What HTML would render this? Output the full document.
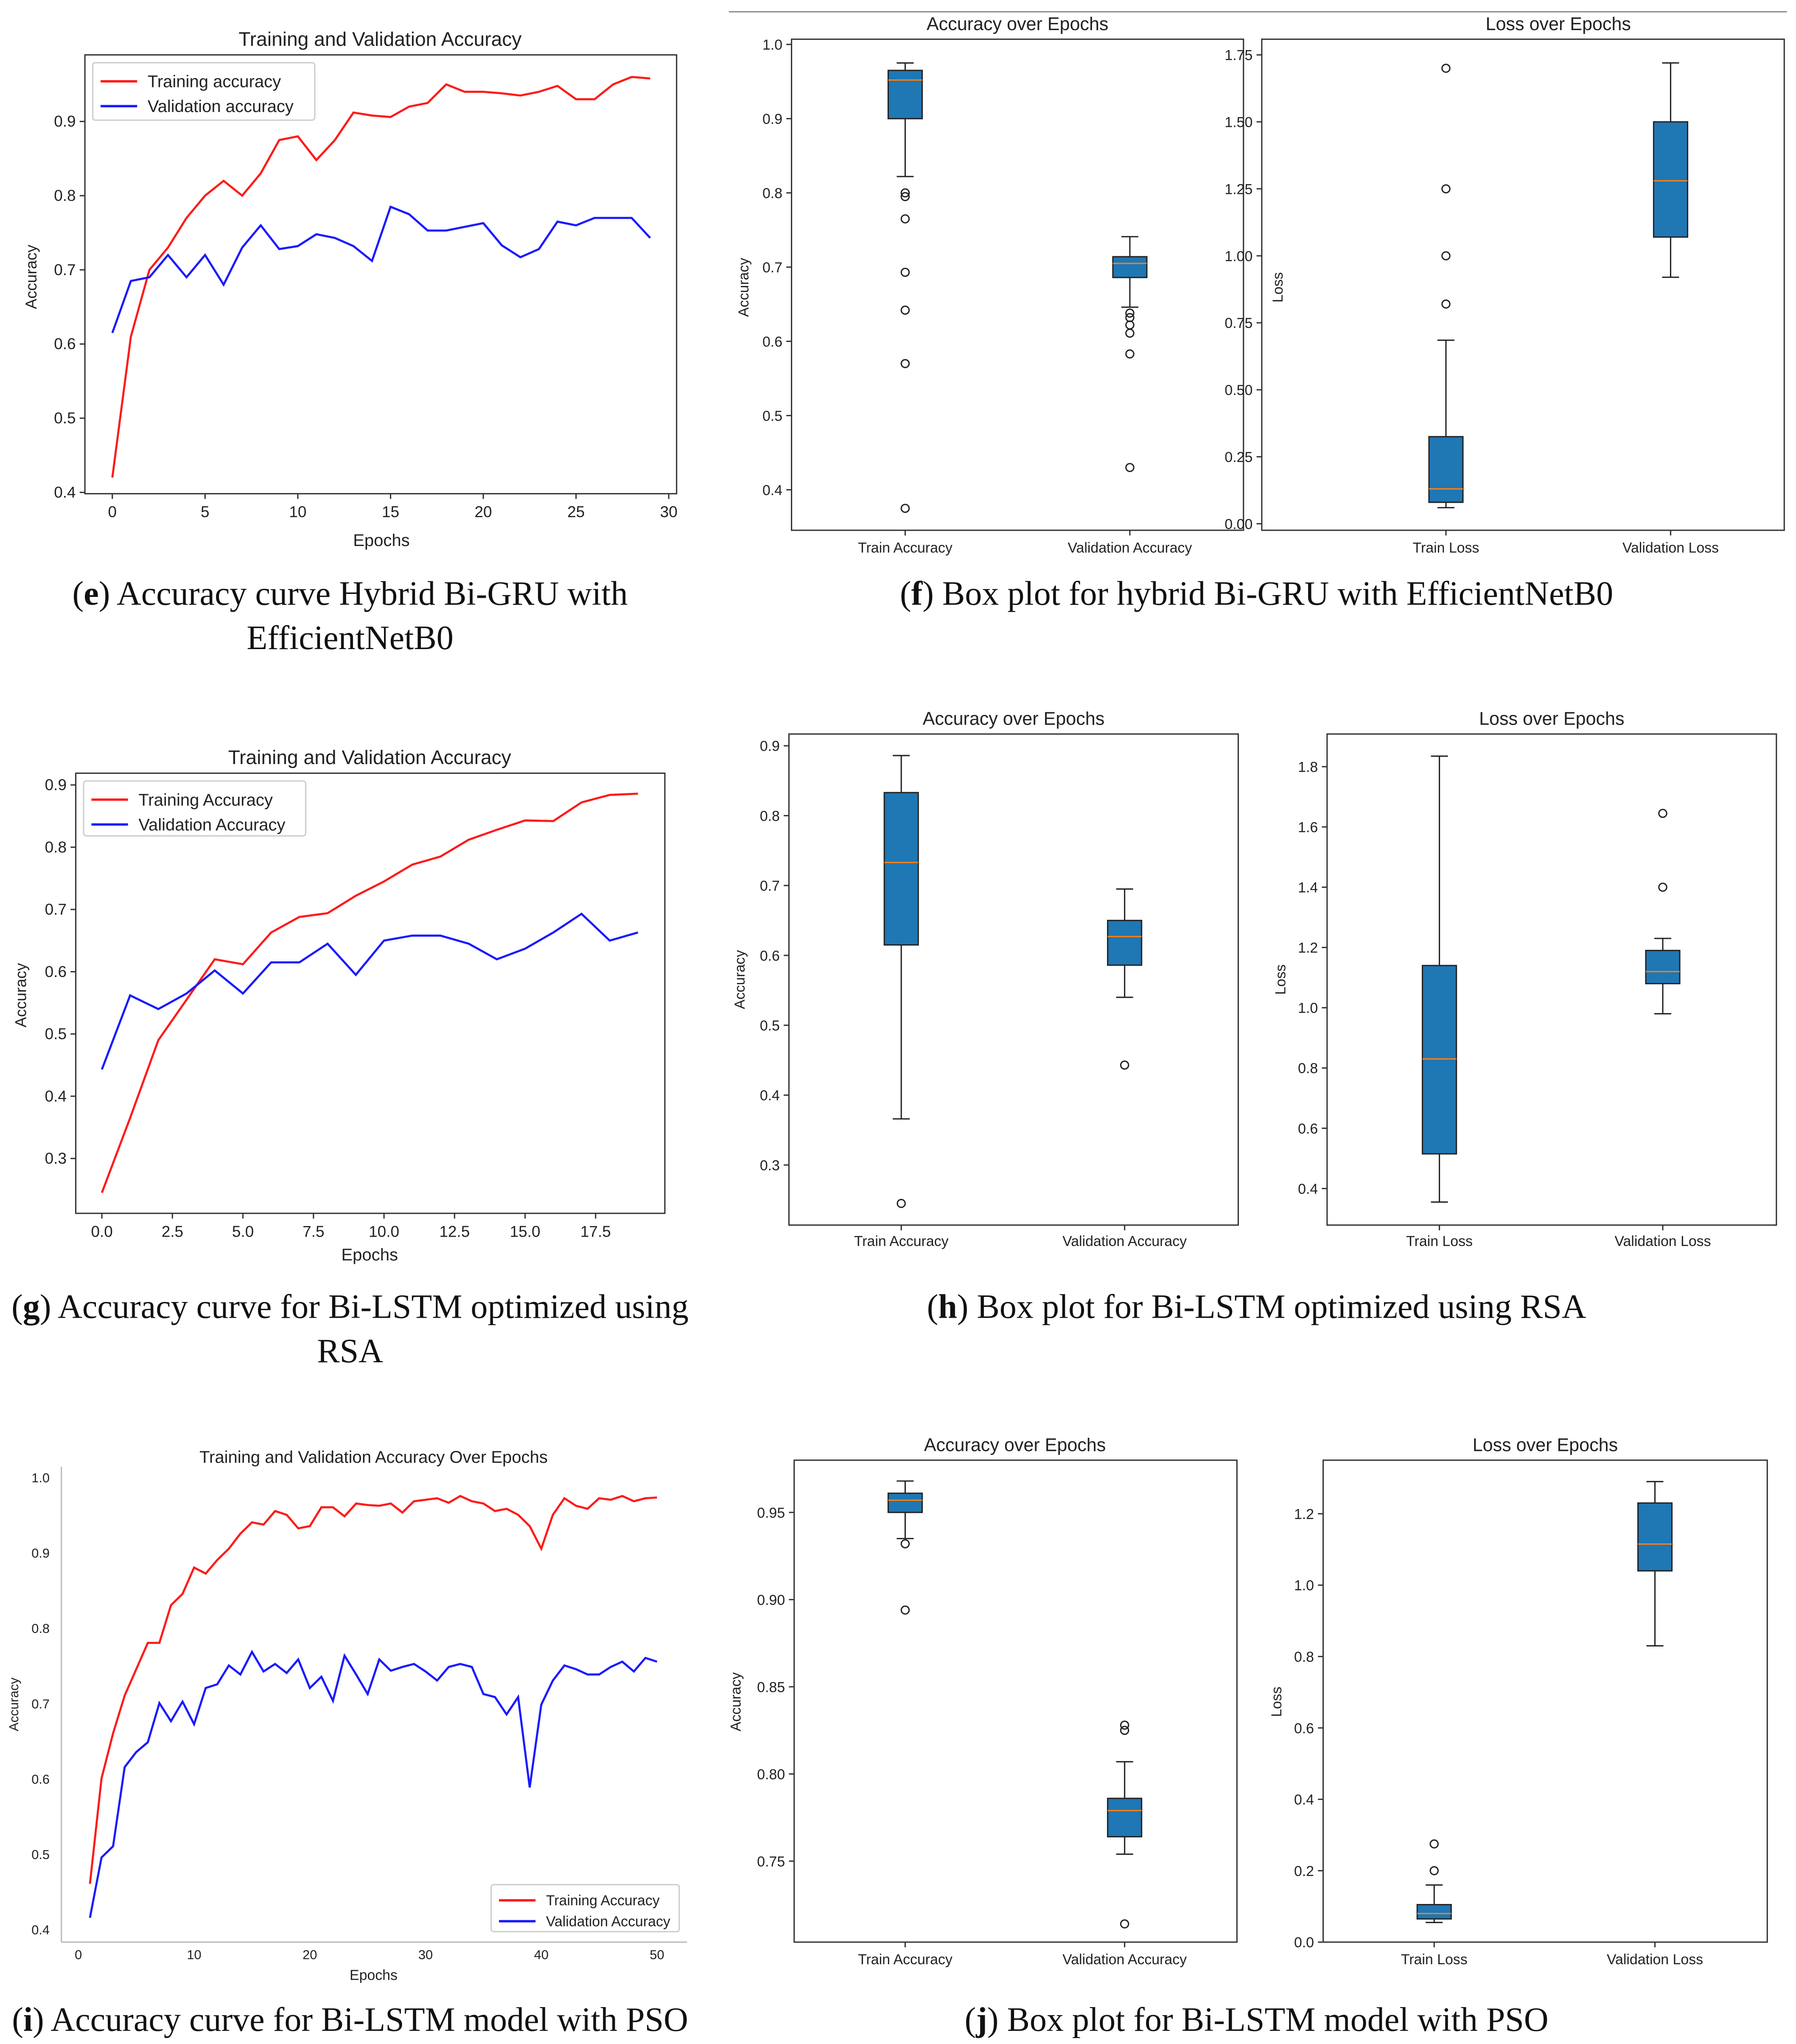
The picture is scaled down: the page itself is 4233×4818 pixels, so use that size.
<!DOCTYPE html>
<html><head><meta charset="utf-8"><style>html,body{margin:0;padding:0;background:#fff}svg{display:block}</style></head>
<body>
<svg id="root" xmlns="http://www.w3.org/2000/svg" width="4233" height="4818" viewBox="0 0 1375 1565" font-family="Liberation Sans, DejaVu Sans, sans-serif">
<rect width="1375" height="1565" fill="#fff"/>
<line x1="558" y1="9" x2="1368" y2="9" stroke="#888" stroke-width="1"/>
</svg>
<script>
// ---- data ----
const eTrain=[0.42,0.61,0.70,0.73,0.77,0.80,0.82,0.80,0.83,0.875,0.88,0.848,0.875,0.912,0.908,0.906,0.92,0.925,0.95,0.94,0.94,0.938,0.935,0.94,0.948,0.93,0.93,0.95,0.96,0.958];
const eVal=[0.615,0.685,0.69,0.72,0.69,0.72,0.68,0.73,0.76,0.728,0.732,0.748,0.743,0.732,0.712,0.785,0.775,0.753,0.753,0.758,0.763,0.733,0.717,0.728,0.765,0.76,0.77,0.77,0.77,0.743];
const gTrain=[0.245,0.365,0.49,0.555,0.62,0.612,0.663,0.688,0.694,0.722,0.745,0.772,0.785,0.812,0.828,0.843,0.842,0.872,0.884,0.886];
const gVal=[0.443,0.562,0.54,0.565,0.602,0.565,0.615,0.615,0.645,0.595,0.65,0.658,0.658,0.645,0.62,0.637,0.663,0.693,0.65,0.663];
const iTrain=[0.46,0.6,0.66,0.71,0.745,0.78,0.78,0.83,0.845,0.88,0.872,0.89,0.905,0.925,0.94,0.937,0.955,0.95,0.932,0.935,0.96,0.96,0.948,0.965,0.963,0.962,0.965,0.953,0.968,0.97,0.972,0.966,0.975,0.968,0.965,0.955,0.958,0.95,0.935,0.905,0.95,0.972,0.962,0.958,0.972,0.97,0.975,0.968,0.972,0.973];
const iVal=[0.415,0.495,0.51,0.615,0.635,0.648,0.7,0.676,0.702,0.672,0.72,0.725,0.75,0.738,0.768,0.742,0.752,0.74,0.758,0.72,0.735,0.703,0.763,0.738,0.712,0.758,0.743,0.748,0.752,0.742,0.73,0.748,0.752,0.748,0.712,0.708,0.685,0.708,0.588,0.698,0.73,0.75,0.745,0.738,0.738,0.748,0.755,0.742,0.76,0.755];
// box stats: [whiskerLow,q1,median,q3,whiskerHigh]
const fAccTrain=[0.822,0.90,0.952,0.965,0.975], fAccTrainOut=[0.80,0.795,0.765,0.693,0.642,0.570,0.375];
const fAccVal=[0.646,0.686,0.705,0.714,0.741], fAccValOut=[0.638,0.632,0.622,0.611,0.583,0.43];
const fLossTrain=[0.06,0.08,0.13,0.325,0.685], fLossTrainOut=[0.82,1.0,1.25,1.70];
const fLossVal=[0.92,1.07,1.28,1.50,1.72], fLossValOut=[];
const hAccTrain=[0.366,0.615,0.733,0.833,0.886], hAccTrainOut=[0.245];
const hAccVal=[0.54,0.586,0.627,0.650,0.695], hAccValOut=[0.443];
const hLossTrain=[0.355,0.515,0.83,1.14,1.835], hLossTrainOut=[];
const hLossVal=[0.98,1.08,1.12,1.19,1.23], hLossValOut=[1.40,1.645];
const jAccTrain=[0.935,0.950,0.957,0.961,0.968], jAccTrainOut=[0.932,0.894];
const jAccVal=[0.754,0.764,0.779,0.786,0.807], jAccValOut=[0.828,0.825,0.714];
const jLossTrain=[0.055,0.065,0.08,0.105,0.16], jLossTrainOut=[0.20,0.275];
const jLossVal=[0.83,1.04,1.115,1.23,1.29], jLossValOut=[];
const eYTicks=[0.4,0.5,0.6,0.7,0.8,0.9], eXTicks=[0,5,10,15,20,25,30];
const gYTicks=[0.3,0.4,0.5,0.6,0.7,0.8,0.9], gXTicks=[0,2.5,5,7.5,10,12.5,15,17.5];
const iYTicks=[0.4,0.5,0.6,0.7,0.8,0.9,1.0], iXTicks=[0,10,20,30,40,50];

const svg=document.getElementById('root');
const NS='http://www.w3.org/2000/svg';
function el(tag,attrs,parent,text){const e=document.createElementNS(NS,tag);for(const k in attrs)e.setAttribute(k,attrs[k]);if(text!==undefined)e.textContent=text;(parent||svg).appendChild(e);return e;}
function lin(d0,d1,p0,p1){return v=>p0+(v-d0)*(p1-p0)/(d1-d0);}
function group(name){const g=el('g',{},svg);return g;}
function frame(g,x0,y0,x1,y1){const r=el('rect',{x:x0,y:y0,width:x1-x0,height:y1-y0,fill:'none',stroke:'#333','stroke-width':1},g);}
function yTicks(g,ticks,ys,x0,fmt,fs){ticks.forEach(t=>{const y=ys(t);el('line',{x1:x0-4,y1:y,x2:x0,y2:y,stroke:'#333'},g);const tx=el('text',{x:x0-7,y:y+4,'font-size':fs,'text-anchor':'end',fill:'#222'},g,fmt(t));});}
function xTicks(g,ticks,xs,y1,fmt,fs){ticks.forEach(t=>{const x=xs(t);el('line',{x1:x,y1:y1,x2:x,y2:y1+4,stroke:'#333'},g);const tx=el('text',{x:x,y:y1+18,'font-size':fs,'text-anchor':'middle',fill:'#222'},g,fmt(t));});}
function title(g,x,y,t,fs){const tx=el('text',{x:x,y:y,'font-size':fs,'text-anchor':'middle',fill:'#222'},g,t);}
function ylabel(g,x,y,t,fs){const tx=el('text',{x:x,y:y,'font-size':fs,'text-anchor':'middle',fill:'#222',transform:`rotate(-90 ${x} ${y})`},g,t);}
function xlabel(g,x,y,t,fs){const tx=el('text',{x:x,y:y,'font-size':fs,'text-anchor':'middle',fill:'#222'},g,t);}
function series(g,vals,xs,ys,x0idx,color,name){const pts=vals.map((v,i)=>xs(i+x0idx).toFixed(2)+','+ys(v).toFixed(2)).join(' ');const p=el('polyline',{points:pts,fill:'none',stroke:color,'stroke-width':1.6},g);}
function legend(g,x,y,w,h,items,fs,lh){const r=el('rect',{x:x,y:y,width:w,height:h,fill:'#fff',stroke:'#ccc',rx:2},g);items.forEach((it,i)=>{const yy=y+lh*0.75+i*lh;el('line',{x1:x+6,y1:yy,x2:x+34,y2:yy,stroke:it[1],'stroke-width':1.8},g);const t=el('text',{x:x+42,y:yy+fs*0.35,'font-size':fs,fill:'#222'},g,it[0]);});}
function box(g,cx,stats,outs,ys,name){const w=26;const [lo,q1,md,q3,hi]=stats;
 el('line',{x1:cx,y1:ys(hi),x2:cx,y2:ys(q3),stroke:'#222'},g);el('line',{x1:cx,y1:ys(q1),x2:cx,y2:ys(lo),stroke:'#222'},g);
 el('line',{x1:cx-w/4,y1:ys(hi),x2:cx+w/4,y2:ys(hi),stroke:'#222'},g);el('line',{x1:cx-w/4,y1:ys(lo),x2:cx+w/4,y2:ys(lo),stroke:'#222'},g);
 const r=el('rect',{x:cx-w/2,y:ys(q3),width:w,height:ys(q1)-ys(q3),fill:'#1f77b4',stroke:'#222'},g);
 el('line',{x1:cx-w/2,y1:ys(md),x2:cx+w/2,y2:ys(md),stroke:'#ff7f0e','stroke-width':1},g);
 outs.forEach(o=>{const c=el('circle',{cx:cx,cy:ys(o),r:3,fill:'none',stroke:'#222','stroke-width':1},g);});}
function caption(x,y,letter,rest){const t=el('text',{x:x,y:y,'font-size':26,'text-anchor':'middle','font-family':'Liberation Serif, serif',fill:'#111'});
 el('tspan',{},t,'(');el('tspan',{'font-weight':'bold'},t,letter);el('tspan',{},t,') '+rest);}
function caption2(x,y,txt){const t=el('text',{x:x,y:y,'font-size':26,'text-anchor':'middle','font-family':'Liberation Serif, serif',fill:'#111'},svg,txt);}
const f1=v=>v.toFixed(1), f2=v=>v.toFixed(2), f0=v=>String(v);

// ---- panel e ----
(function(){const g=group('chart-e-accuracy');const ys=lin(0.9,0.4,93,377),xs=lin(0,30,86,512);
 frame(g,65,42,518,378);yTicks(g,eYTicks,ys,65,f1,12);xTicks(g,eXTicks,xs,378,f0,12);
 title(g,291,35,'Training and Validation Accuracy',15);ylabel(g,28,212,'Accuracy',12);xlabel(g,292,418,'Epochs',13);
 series(g,eTrain,xs,ys,0,'#ff1a1a','line-training-accuracy');series(g,eVal,xs,ys,0,'#1a1aff','line-validation-accuracy');
 legend(g,71,48,170,44,[['Training accuracy','#ff1a1a'],['Validation accuracy','#1a1aff']],13,19);})();
// ---- panel f ----
(function(){const g=group('chart-f-accuracy-box');const ys=lin(1.0,0.4,34,375);
 frame(g,606,30,952,406);yTicks(g,[0.4,0.5,0.6,0.7,0.8,0.9,1.0],ys,606,f1,11);
 [[693,'Train Accuracy'],[865,'Validation Accuracy']].forEach(a=>{el('line',{x1:a[0],y1:406,x2:a[0],y2:410,stroke:'#333'},g);xlabel(g,a[0],423,a[1],11);});
 title(g,779,23,'Accuracy over Epochs',14);ylabel(g,573,220,'Accuracy',11);
 box(g,693,fAccTrain,fAccTrainOut,ys,'box-train-accuracy');box(g,865,fAccVal,fAccValOut,ys,'box-validation-accuracy');})();
(function(){const g=group('chart-f-loss-box');const ys=lin(0,1.75,401,42);
 frame(g,966,30,1366,406);yTicks(g,[0,0.25,0.5,0.75,1.0,1.25,1.5,1.75],ys,966,f2,11);
 [[1107,'Train Loss'],[1279,'Validation Loss']].forEach(a=>{el('line',{x1:a[0],y1:406,x2:a[0],y2:410,stroke:'#333'},g);xlabel(g,a[0],423,a[1],11);});
 title(g,1193,23,'Loss over Epochs',14);ylabel(g,982,220,'Loss',11);
 box(g,1107,fLossTrain,fLossTrainOut,ys,'box-train-loss');box(g,1279,fLossVal,fLossValOut,ys,'box-validation-loss');})();
caption(268,463,'e','Accuracy curve Hybrid Bi-GRU with');
caption2(268,497,'EfficientNetB0');
caption(962,463,'f','Box plot for hybrid Bi-GRU with EfficientNetB0');
// ---- panel g ----
(function(){const g=group('chart-g-accuracy');const ys=lin(0.9,0.3,601,887),xs=lin(0,17.5,78,456);
 frame(g,58,592,509,929);yTicks(g,gYTicks,ys,58,f1,12);xTicks(g,gXTicks,xs,929,f1,12);
 title(g,283,585,'Training and Validation Accuracy',15);ylabel(g,20,762,'Accuracy',12);xlabel(g,283,965,'Epochs',13);
 series(g,gTrain,xs,ys,0,'#ff1a1a','line-training-accuracy');series(g,gVal,xs,ys,0,'#1a1aff','line-validation-accuracy');
 legend(g,64,598,170,42,[['Training Accuracy','#ff1a1a'],['Validation Accuracy','#1a1aff']],13,19);})();
// ---- panel h ----
(function(){const g=group('chart-h-accuracy-box');const ys=lin(0.9,0.3,571,892);
 frame(g,604,562,948,938);yTicks(g,[0.3,0.4,0.5,0.6,0.7,0.8,0.9],ys,604,f1,11);
 [[690,'Train Accuracy'],[861,'Validation Accuracy']].forEach(a=>{el('line',{x1:a[0],y1:938,x2:a[0],y2:942,stroke:'#333'},g);xlabel(g,a[0],954,a[1],11);});
 title(g,776,555,'Accuracy over Epochs',14);ylabel(g,570,750,'Accuracy',11);
 box(g,690,hAccTrain,hAccTrainOut,ys,'box-train-accuracy');box(g,861,hAccVal,hAccValOut,ys,'box-validation-accuracy');})();
(function(){const g=group('chart-h-loss-box');const ys=lin(1.8,0.4,587,910);
 frame(g,1016,562,1360,938);yTicks(g,[0.4,0.6,0.8,1.0,1.2,1.4,1.6,1.8],ys,1016,f1,11);
 [[1102,'Train Loss'],[1273,'Validation Loss']].forEach(a=>{el('line',{x1:a[0],y1:938,x2:a[0],y2:942,stroke:'#333'},g);xlabel(g,a[0],954,a[1],11);});
 title(g,1188,555,'Loss over Epochs',14);ylabel(g,984,750,'Loss',11);
 box(g,1102,hLossTrain,hLossTrainOut,ys,'box-train-loss');box(g,1273,hLossVal,hLossValOut,ys,'box-validation-loss');})();
caption(268,1009,'g','Accuracy curve for Bi-LSTM optimized using');
caption2(268,1043,'RSA');
caption(962,1009,'h','Box plot for Bi-LSTM optimized using RSA');
// ---- panel i ----
(function(){const g=group('chart-i-accuracy');const ys=lin(1.0,0.4,1131,1477),xs=lin(0,50,60,503);
 el('line',{x1:47,y1:1123,x2:47,y2:1487,stroke:'#bbb'},g);el('line',{x1:47,y1:1487,x2:526,y2:1487,stroke:'#bbb'},g);
 iYTicks.forEach(t=>{const tx=el('text',{x:38,y:ys(t)+4,'font-size':10,'text-anchor':'end',fill:'#222'},g,f1(t));});
 iXTicks.forEach(t=>{const tx=el('text',{x:xs(t),y:1500,'font-size':10,'text-anchor':'middle',fill:'#222'},g,f0(t));});
 title(g,286,1120,'Training and Validation Accuracy Over Epochs',13);ylabel(g,14,1305,'Accuracy',10);xlabel(g,286,1516,'Epochs',11);
 series(g,iTrain,xs,ys,1,'#ff1a1a','line-training-accuracy');series(g,iVal,xs,ys,1,'#1a1aff','line-validation-accuracy');
 legend(g,376,1443,144,36,[['Training Accuracy','#ff1a1a'],['Validation Accuracy','#1a1aff']],11,16);})();
// ---- panel j ----
(function(){const g=group('chart-j-accuracy-box');const ys=lin(0.95,0.75,1158,1425);
 frame(g,608,1118,947,1487);yTicks(g,[0.75,0.80,0.85,0.90,0.95],ys,608,f2,11);
 [[693,'Train Accuracy'],[861,'Validation Accuracy']].forEach(a=>{el('line',{x1:a[0],y1:1487,x2:a[0],y2:1491,stroke:'#333'},g);xlabel(g,a[0],1504,a[1],11);});
 title(g,777,1111,'Accuracy over Epochs',14);ylabel(g,567,1303,'Accuracy',11);
 box(g,693,jAccTrain,jAccTrainOut,ys,'box-train-accuracy');box(g,861,jAccVal,jAccValOut,ys,'box-validation-accuracy');})();
(function(){const g=group('chart-j-loss-box');const ys=lin(0,1.2,1487,1159);
 frame(g,1013,1118,1353,1487);yTicks(g,[0,0.2,0.4,0.6,0.8,1.0,1.2],ys,1013,f1,11);
 [[1098,'Train Loss'],[1267,'Validation Loss']].forEach(a=>{el('line',{x1:a[0],y1:1487,x2:a[0],y2:1491,stroke:'#333'},g);xlabel(g,a[0],1504,a[1],11);});
 title(g,1183,1111,'Loss over Epochs',14);ylabel(g,981,1303,'Loss',11);
 box(g,1098,jLossTrain,jLossTrainOut,ys,'box-train-loss');box(g,1267,jLossVal,jLossValOut,ys,'box-validation-loss');})();
caption(268,1555,'i','Accuracy curve for Bi-LSTM model with PSO');
caption(962,1555,'j','Box plot for Bi-LSTM model with PSO');
</script>
</body></html>
